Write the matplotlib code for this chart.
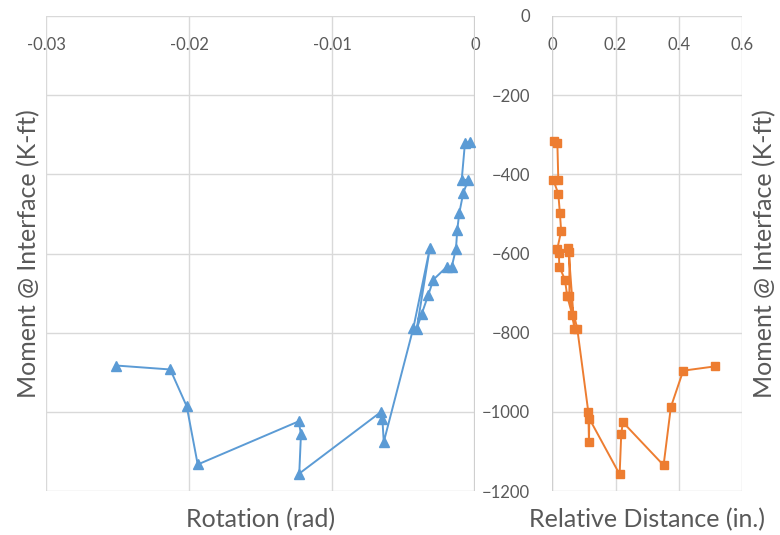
import matplotlib
matplotlib.use("Agg")
import matplotlib.pyplot as plt

plt.rcParams["font.family"] = ["Lato", "DejaVu Sans"]

BLUE = "#5B9BD5"
ORANGE = "#ED7D31"
GRID = "#d9d9d9"
TXT = "#595959"

# rotation (rad) vs moment (K-ft)
rotation = [-0.00035, -0.00070, -0.00093, -0.00047, -0.00082, -0.00110, -0.00124,
            -0.00133, -0.00163, -0.00198, -0.00291, -0.00326, -0.00373, -0.00408,
            -0.00315, -0.00431, -0.00638, -0.00648, -0.00657, -0.01229, -0.01217,
            -0.01233, -0.01939, -0.02016, -0.02131, -0.0251]
moment_rot = [-318, -320, -414, -414, -447, -498, -540, -588, -634, -634, -666, -704,
              -753, -791, -585, -788, -1076, -1017, -1000, -1156, -1056, -1024, -1133,
              -986, -893, -883]

# relative distance (in.) vs moment (K-ft)
rel_dist = [0.006, 0.016, 0.019, 0.003, 0.019, 0.024, 0.028, 0.016, 0.021, 0.022,
            0.040, 0.047, 0.063, 0.070, 0.051, 0.054, 0.054, 0.079, 0.114, 0.116,
            0.117, 0.213, 0.218, 0.223, 0.352, 0.375, 0.414, 0.516]
moment_dist = [-317, -321, -414, -414, -449, -498, -543, -588, -599, -633, -666, -707,
               -755, -790, -586, -597, -707, -790, -1001, -1077, -1017, -1158, -1057,
               -1026, -1135, -988, -896, -885]

x1_ticks = [-0.03, -0.02, -0.01, 0]
x1_labels = ["-0.03", "-0.02", "-0.01", "0"]
x2_ticks = [0, 0.2, 0.4, 0.6]
x2_labels = ["0", "0.2", "0.4", "0.6"]
y_ticks = [0, -200, -400, -600, -800, -1000, -1200]

fig = plt.figure(figsize=(7.8, 5.35), dpi=100)
ax1 = fig.add_axes([46 / 780, 44 / 535, 429 / 780, 475 / 535])
ax2 = fig.add_axes([552.3 / 780, 44 / 535, 189.7 / 780, 475 / 535])


def _style(ax, xticks, xlabels):
    ax.set_ylim(-1200, 0)
    ax.set_yticks(y_ticks)
    ax.set_xticks(xticks)
    ax.set_xticklabels(xlabels)
    ax.set_xlim(xticks[0], xticks[-1])
    ax.grid(True, color=GRID, linewidth=1.0)
    ax.set_axisbelow(True)
    for s in ax.spines.values():
        s.set_visible(False)
    ax.tick_params(axis="x", length=0, bottom=False, labelbottom=False,
                   top=False, labeltop=True, pad=-27, labelsize=12, labelcolor=TXT)


_style(ax1, x1_ticks, x1_labels)
ax1.tick_params(axis="y", length=0, labelleft=False)
ax1.axvline(0, color="#cfcfcf", linewidth=1.6, zorder=1)
ax1.plot(rotation, moment_rot, color=BLUE, linewidth=1.4, marker="^",
         markersize=7, clip_on=False, zorder=3)
ax1.set_xlabel("Rotation (rad)", fontsize=18, color=TXT, labelpad=12)
ax1.set_ylabel("Moment @ Interface (K-ft)", fontsize=18, color=TXT, labelpad=4)

_style(ax2, x2_ticks, x2_labels)
ax2.tick_params(axis="y", length=0, labelleft=True, pad=16, labelsize=12, labelcolor=TXT)
ax2.axvline(0, color="#cfcfcf", linewidth=1.6, zorder=1)
ax2.plot(rel_dist, moment_dist, color=ORANGE, linewidth=1.4, marker="s",
         markersize=6, clip_on=False, zorder=3)
ax2.set_xlabel("Relative Distance (in.)", fontsize=18, color=TXT, labelpad=12)
ax2.yaxis.set_label_position("right")
ax2.set_ylabel("Moment @ Interface (K-ft)", fontsize=18, color=TXT, labelpad=8)

fig.savefig("out.png", dpi=100)
